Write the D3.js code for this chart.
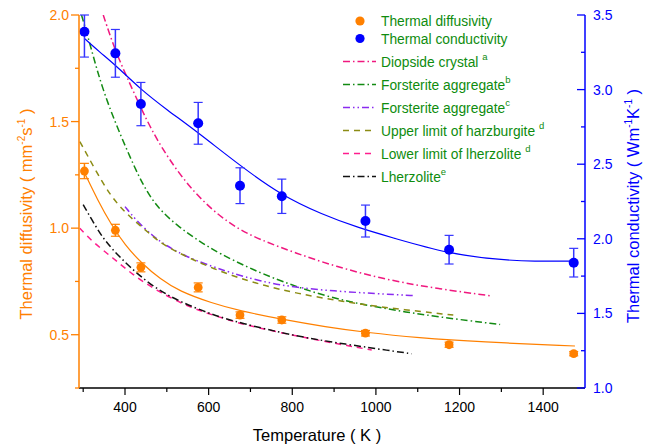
<!DOCTYPE html>
<html><head><meta charset="utf-8">
<script src="https://cdn.jsdelivr.net/npm/d3@7"></script>
<style>
body{margin:0;background:#fff;}
text{font-family:"Liberation Sans",Arial,sans-serif;}
</style></head>
<body><svg id="c" width="655" height="448"></svg>
<script>
// ---- data ----
const temps = [303, 377, 438, 575, 675, 775, 975, 1175, 1473];
const diffusivity = [1.268, 0.99, 0.816, 0.722, 0.592, 0.569, 0.507, 0.453, 0.411];
const diffErr = [0.036, 0.028, 0.021, 0.021, 0.015, 0.015, 0.013, 0.012, 0.01];
const conductivity = [3.388, 3.243, 2.903, 2.774, 2.356, 2.285, 2.119, 1.927, 1.840];
const condErr = [0.17, 0.16, 0.145, 0.14, 0.12, 0.115, 0.107, 0.096, 0.096];

const diffFitT = [303, 335, 366, 400, 440, 485, 529, 609, 673, 775, 880, 978, 1100, 1250, 1476];
const diffFitV = [1.26, 1.13, 1.02, 0.92, 0.835, 0.76, 0.705, 0.647, 0.613, 0.572, 0.537, 0.510, 0.486, 0.466, 0.447];
const condFitT = [303, 340, 377, 438, 500, 575, 675, 775, 870, 962, 1034, 1175, 1300, 1377, 1473];
const condFitV = [3.343, 3.25, 3.165, 3.0, 2.865, 2.712, 2.49, 2.29, 2.165, 2.07, 2.012, 1.898, 1.858, 1.849, 1.851];

const diopsideT = [348, 375, 404, 440, 484, 563, 651, 723, 810, 900, 1026, 1150, 1277];
const diopsideV = [2.0, 1.84, 1.711, 1.554, 1.382, 1.163, 1.015, 0.945, 0.882, 0.822, 0.757, 0.715, 0.682];
const forstBT = [296, 316, 348, 404, 444, 480, 529, 580, 625, 700, 771, 890, 1026, 1150, 1297];
const forstBV = [2.0, 1.867, 1.633, 1.367, 1.195, 1.09, 1.005, 0.935, 0.882, 0.81, 0.752, 0.672, 0.62, 0.583, 0.548];
const forstCT = [400, 425, 468, 497, 548, 609, 651, 720, 810, 920, 1026, 1093];
const forstCV = [1.101, 1.04, 0.96, 0.92, 0.864, 0.82, 0.792, 0.752, 0.72, 0.702, 0.69, 0.683];
const harzT = [292, 330, 364, 395, 425, 460, 489, 553, 649, 730, 810, 920, 1026, 1185];
const harzV = [1.406, 1.27, 1.156, 1.085, 1.03, 0.972, 0.925, 0.858, 0.78, 0.732, 0.694, 0.656, 0.626, 0.592];
const lowLherzT = [292, 322, 370, 418, 473, 553, 641, 683, 810, 954, 990];
const lowLherzV = [1.0, 0.936, 0.862, 0.782, 0.71, 0.628, 0.573, 0.548, 0.493, 0.441, 0.428];
const lherzT = [300, 322, 345, 370, 410, 465, 529, 609, 673, 810, 930, 1034, 1085];
const lherzV = [1.11, 1.035, 0.96, 0.9, 0.82, 0.727, 0.656, 0.594, 0.556, 0.492, 0.455, 0.425, 0.411];

const xMajor = [400, 600, 800, 1000, 1200, 1400];
const xMinor = [300, 500, 700, 900, 1100, 1300];
const yLMajor = [0.5, 1.0, 1.5, 2.0];
const yLMinor = [0.25, 0.75, 1.25, 1.75];
const yRMajor = [1.0, 1.5, 2.0, 2.5, 3.0, 3.5];
const yRMinor = [1.25, 1.75, 2.25, 2.75, 3.25];

const refSeries = [
  {name: "Diopside crystal ", sup: "a", T: diopsideT, V: diopsideV, color: "#F0187F", dash: "7,3,1.5,3"},
  {name: "Forsterite aggregate", sup: "b", T: forstBT, V: forstBV, color: "#128A12", dash: "7,3,1.5,3"},
  {name: "Forsterite aggregate", sup: "c", T: forstCT, V: forstCV, color: "#8A2BF0", dash: "7,3,1.5,3,1.5,3"},
  {name: "Upper limit of harzburgite ", sup: "d", T: harzT, V: harzV, color: "#8C8C14", dash: "6,5"},
  {name: "Lower limit of lherzolite ", sup: "d", T: lowLherzT, V: lowLherzV, color: "#FF1D8E", dash: "6,5"},
  {name: "Lherzolite", sup: "e", T: lherzT, V: lherzV, color: "#111111", dash: "7,3,1.5,3"}
];

// ---- layout ----
const L = 79, R = 585, T0 = 15, B = 388;
const ORANGE = "#FF8000", BLUE = "#0000FF", GREEN = "#0E8C0E";
const svg = d3.select("#c");
const x = d3.scaleLinear().domain([290, 1500]).range([L, R]);
const yL = d3.scaleLinear().domain([0.25, 2.0]).range([B, T0]);
const yR = d3.scaleLinear().domain([1.0, 3.5]).range([B, T0]);

svg.append("defs").append("clipPath").attr("id", "clip")
  .append("rect").attr("x", L).attr("y", T0).attr("width", R - L).attr("height", B - T0);

const plot = svg.append("g").attr("clip-path", "url(#clip)");

refSeries.forEach(s => {
  const pts = s.T.map((t, i) => [t, s.V[i]]);
  plot.append("path").datum(pts)
    .attr("d", d3.line().x(d => x(d[0])).y(d => yL(d[1])).curve(d3.curveBasis))
    .attr("fill", "none").attr("stroke", s.color).attr("stroke-width", 1.5)
    .attr("stroke-dasharray", s.dash);
});

plot.append("path").datum(diffFitT.map((t, i) => [t, diffFitV[i]]))
  .attr("d", d3.line().x(d => x(d[0])).y(d => yL(d[1])).curve(d3.curveBasis))
  .attr("fill", "none").attr("stroke", ORANGE).attr("stroke-width", 1.2);
plot.append("path").datum(condFitT.map((t, i) => [t, condFitV[i]]))
  .attr("d", d3.line().x(d => x(d[0])).y(d => yR(d[1])).curve(d3.curveBasis))
  .attr("fill", "none").attr("stroke", BLUE).attr("stroke-width", 1.2);

function drawPoints(vals, errs, ys, color, r, errColor) {
  const g = svg.append("g");
  temps.forEach((t, i) => {
    const cx = x(t), top = Math.max(T0, ys(vals[i] + errs[i])), bot = ys(vals[i] - errs[i]);
    g.append("line").attr("x1", cx).attr("x2", cx).attr("y1", top).attr("y2", bot)
      .attr("stroke", errColor).attr("stroke-width", 1.5);
    [top, bot].forEach(yy => g.append("line").attr("x1", cx - 4.5).attr("x2", cx + 4.5)
      .attr("y1", yy).attr("y2", yy).attr("stroke", errColor).attr("stroke-width", 1.2));
  });
  g.selectAll("circle").data(vals).enter().append("circle")
    .attr("cx", (d, i) => x(temps[i])).attr("cy", d => ys(d)).attr("r", r).attr("fill", color);
}
drawPoints(diffusivity, diffErr, yL, ORANGE, 4.4, ORANGE);
drawPoints(conductivity, condErr, yR, BLUE, 5, "#3535FF");

// ---- axes ----
const xg = svg.append("g").attr("transform", `translate(0,${B})`);
xg.append("line").attr("x1", L).attr("x2", R).attr("stroke", "#000").attr("stroke-width", 1.3);
xMajor.forEach(v => {
  xg.append("line").attr("x1", x(v)).attr("x2", x(v)).attr("y1", 0).attr("y2", 7).attr("stroke", "#000").attr("stroke-width", 1.2);
  xg.append("text").attr("x", x(v)).attr("y", 24).attr("text-anchor", "middle")
    .attr("font-size", 14).attr("fill", "#000").text(v);
});
xMinor.forEach(v => xg.append("line").attr("x1", x(v)).attr("x2", x(v)).attr("y1", 0).attr("y2", 4).attr("stroke", "#000").attr("stroke-width", 1.2));

const lg = svg.append("g");
lg.append("line").attr("x1", L).attr("x2", L).attr("y1", T0).attr("y2", B).attr("stroke", ORANGE).attr("stroke-width", 1.5);
yLMajor.forEach(v => {
  lg.append("line").attr("x1", L - 8).attr("x2", L).attr("y1", yL(v)).attr("y2", yL(v)).attr("stroke", ORANGE).attr("stroke-width", 1.3);
  lg.append("text").attr("x", L - 10).attr("y", yL(v) + 5).attr("text-anchor", "end")
    .attr("font-size", 14).attr("fill", ORANGE).text(d3.format(".1f")(v));
});
yLMinor.forEach(v => lg.append("line").attr("x1", L - 4).attr("x2", L).attr("y1", yL(v)).attr("y2", yL(v)).attr("stroke", ORANGE).attr("stroke-width", 1.3));

const rg = svg.append("g");
rg.append("line").attr("x1", R).attr("x2", R).attr("y1", T0).attr("y2", B).attr("stroke", BLUE).attr("stroke-width", 1.5);
yRMajor.forEach(v => {
  rg.append("line").attr("x1", R - 8).attr("x2", R).attr("y1", yR(v)).attr("y2", yR(v)).attr("stroke", BLUE).attr("stroke-width", 1.3);
  rg.append("text").attr("x", R + 8).attr("y", yR(v) + 5).attr("text-anchor", "start")
    .attr("font-size", 14).attr("fill", BLUE).text(d3.format(".1f")(v));
});
yRMinor.forEach(v => rg.append("line").attr("x1", R - 4).attr("x2", R).attr("y1", yR(v)).attr("y2", yR(v)).attr("stroke", BLUE).attr("stroke-width", 1.3));

svg.append("text").attr("x", 317).attr("y", 441).attr("text-anchor", "middle")
  .attr("font-size", 16.5).attr("fill", "#000").text("Temperature ( K )");

function supTitle(parts, color, tx, ty) {
  const t = svg.append("text").attr("transform", `translate(${tx},${ty}) rotate(-90)`)
    .attr("text-anchor", "middle").attr("font-size", 16.5).attr("fill", color);
  parts.forEach(p => {
    if (p.sup) t.append("tspan").attr("dy", -7).attr("font-size", 10).text(p.t);
    else t.append("tspan").attr("dy", p.down ? 7 : 0).text(p.t);
  });
}
supTitle([{t: "Thermal diffusivity ( mm"}, {t: "-2", sup: true}, {t: "s", down: true}, {t: "-1", sup: true}, {t: " )", down: true}], ORANGE, 32, 214);
supTitle([{t: "Thermal conductivity ( Wm"}, {t: "-1", sup: true}, {t: "K", down: true}, {t: "-1", sup: true}, {t: " )", down: true}], BLUE, 639, 206);

// ---- legend ----
const lgd = svg.append("g");
const legX = 360, legTX = 381;
[[ORANGE, "Thermal diffusivity", 21], [BLUE, "Thermal conductivity", 38.5]].forEach(([c, t, yy]) => {
  lgd.append("circle").attr("cx", legX).attr("cy", yy).attr("r", 4.6).attr("fill", c);
  lgd.append("text").attr("x", legTX).attr("y", yy + 5).attr("font-size", 13.8).attr("fill", GREEN).text(t);
});
refSeries.forEach((s, i) => {
  const yy = 61.5 + i * 23;
  lgd.append("line").attr("x1", 343).attr("x2", 376).attr("y1", yy).attr("y2", yy)
    .attr("stroke", s.color).attr("stroke-width", 1.5).attr("stroke-dasharray", s.dash);
  const t = lgd.append("text").attr("x", legTX).attr("y", yy + 5).attr("font-size", 13.8).attr("fill", GREEN);
  t.append("tspan").text(s.name);
  t.append("tspan").attr("dy", -7).attr("font-size", 9.5).text(s.sup);
});
</script></body></html>
